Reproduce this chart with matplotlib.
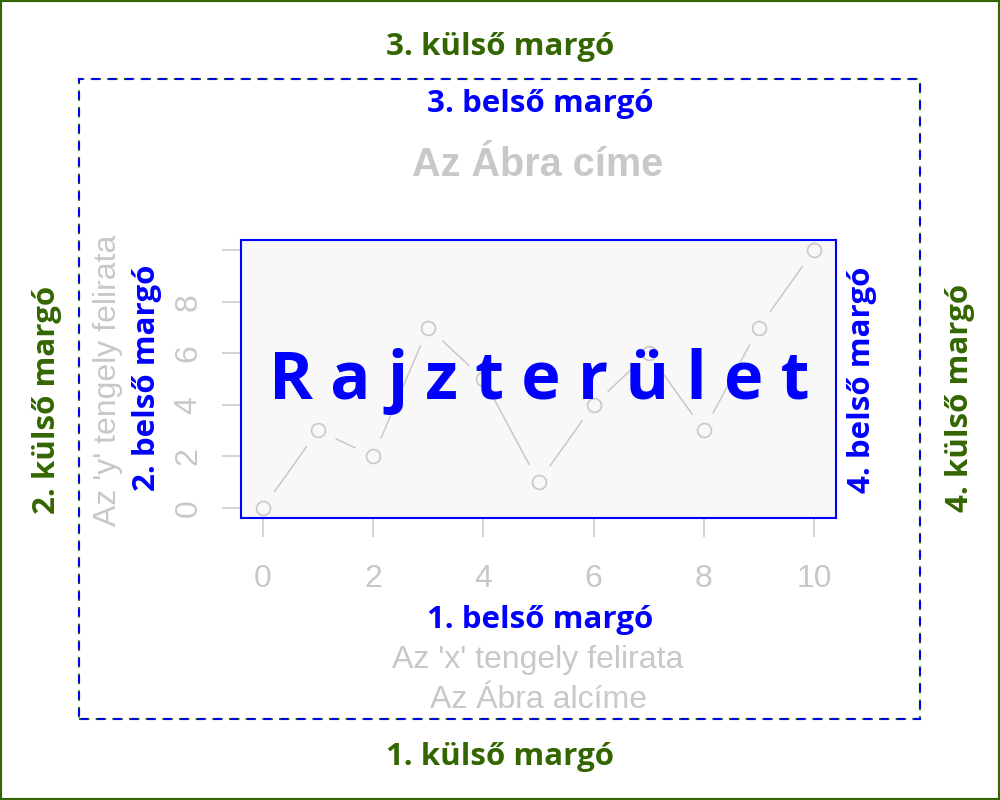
import numpy as np
import matplotlib
matplotlib.use("Agg")
import matplotlib.pyplot as plt
from matplotlib.patches import Rectangle

# Data
x_vals = [0, 1, 2, 3, 4, 5, 6, 7, 8, 9, 10]
y_vals = [0, 3, 2, 7, 5, 1, 4, 6, 3, 7, 10]
x_ticks = [0, 2, 4, 6, 8, 10]
y_ticks = [0, 2, 4, 6, 8, 10]
y_tick_labels = ["0", "2", "4", "6", "8", ""]

title = "Az Ábra címe"
subtitle = "Az Ábra alcíme"
xlabel = "Az 'x' tengely felirata"
ylabel = "Az 'y' tengely felirata"
plot_text = "R a j z t e r ü l e t"

green = "#336600"
blue = "#0000ff"
gray = "#c8c8c8"
margin_font = ["Open Sans", "DejaVu Sans"]
gray_font = ["Liberation Sans", "DejaVu Sans"]

W, H = 1000, 800
fig = plt.figure(figsize=(10, 8), dpi=100)

def fx(px):
    return px / W

def fy(py):
    return 1 - py / H

# plot region
ax = fig.add_axes([fx(241), fy(518), fx(836 - 241), (518 - 240) / H])
ax.set_facecolor("#f8f8f8")
ax.set_xlim(-0.4, 10.4)
ax.set_ylim(-0.4, 10.4)
for s in ax.spines.values():
    s.set_color(blue)
    s.set_linewidth(1.5)

ax.set_xticks(x_ticks)
ax.set_yticks(y_ticks)
ax.set_yticklabels(y_tick_labels)
ax.tick_params(axis="both", length=14, width=1.1, color=gray, labelcolor=gray,
               labelsize=23)
ax.tick_params(axis="x", pad=19)
ax.tick_params(axis="y", pad=13, labelrotation=90)
for lbl in ax.get_xticklabels() + ax.get_yticklabels():
    lbl.set_family(gray_font)
for lbl in ax.get_yticklabels():
    lbl.set_va("center")

# type = "b": points plus line pieces with gaps around the points
ax.plot(x_vals, y_vals, "o", ms=10, mfc="none", mec=gray, mew=1.2)
gap = 20 * fig.dpi / 100
pts = ax.transData.transform(np.column_stack([x_vals, y_vals]))
inv = ax.transData.inverted()
for p0, p1 in zip(pts[:-1], pts[1:]):
    d = p1 - p0
    L = np.hypot(*d)
    if L > 2 * gap:
        u = d / L
        seg = inv.transform(np.array([p0 + u * gap, p1 - u * gap]))
        ax.plot(seg[:, 0], seg[:, 1], color=gray, lw=1.1)

# borders
fig.patches.append(Rectangle((0, 0), 1, 1, transform=fig.transFigure, fill=False,
                             edgecolor=green, lw=3))
box = [fx(79), fy(719), fx(920 - 79), (719 - 79) / H]
fig.patches.append(Rectangle(box[:2], box[2], box[3], transform=fig.transFigure,
                             fill=False, edgecolor=green, lw=1.5, linestyle=(0, (5, 3))))
fig.patches.append(Rectangle(box[:2], box[2], box[3], transform=fig.transFigure,
                             fill=False, edgecolor=blue, lw=1.5, linestyle=(7.2, (3.5, 4.5))))

def mtext(px, py, s, color, size=22.5, rot=0, fam=margin_font, weight="bold"):
    fig.text(fx(px), fy(py), s, color=color, fontsize=size, rotation=rot,
             rotation_mode="anchor", ha="center", va="baseline",
             family=fam, fontweight=weight)

# outer margins
mtext(500, 55, "3. külső margó", green)
mtext(500, 765, "1. külső margó", green)
mtext(55, 400, "2. külső margó", green, rot=90)
mtext(968, 398, "4. külső margó", green, rot=90)

# inner margins
mtext(540, 112, "3. belső margó", blue)
mtext(540, 628, "1. belső margó", blue)
mtext(155, 378, "2. belső margó", blue, rot=90)
mtext(870, 380, "4. belső margó", blue, rot=90)

# titles and axis labels
mtext(538, 176, title, gray, size=28.5, fam=gray_font)
mtext(538, 668, xlabel, gray, size=23, fam=gray_font, weight="normal")
mtext(538, 708, subtitle, gray, size=23, fam=gray_font, weight="normal")
mtext(116, 380, ylabel, gray, size=23, rot=90, fam=gray_font, weight="normal")

# plot region label
mtext(539, 399, plot_text, blue, size=48)

fig.savefig("out.png", dpi=100)
